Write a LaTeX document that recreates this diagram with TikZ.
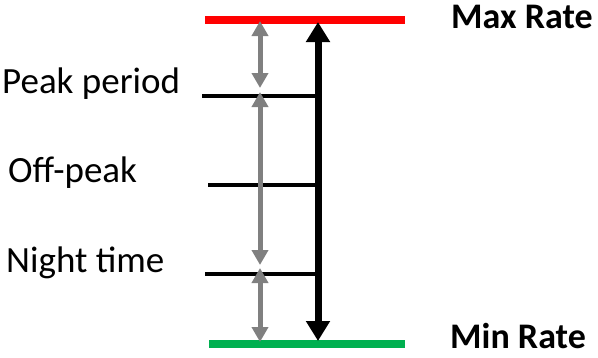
\documentclass[tikz,border=0pt]{standalone}
\usepackage{fontspec}
\setmainfont{Carlito}
\usetikzlibrary{arrows.meta}
\definecolor{maxred}{HTML}{FF0000}
\definecolor{mingreen}{HTML}{00B050}
\definecolor{spangrey}{HTML}{808080}
\tikzset{
  label text/.style={anchor=base west, inner sep=0pt, font=\fontsize{37}{44}\selectfont},
  rate text/.style={label text, font=\fontsize{36}{43}\selectfont\bfseries},
  level/.style={line width=3.5pt},
  rate level/.style={line width=7.5pt},
  range arrow/.style={line width=7pt, {Triangle[width=23pt,length=20pt]}-{Triangle[width=23pt,length=20pt]}},
  span arrow/.style={spangrey, line width=5pt, {Triangle[width=16pt,length=15pt]}-{Triangle[width=16pt,length=15pt]}}
}
\begin{document}
\begin{tikzpicture}[x=1pt,y=-1pt]
\useasboundingbox (0,0) rectangle (598,357);

% rate levels
\coordinate (maxL) at (205,20);  \coordinate (maxR) at (405,20);
\coordinate (minL) at (209,344); \coordinate (minR) at (405,344);
\draw[rate level, maxred] (maxL) -- (maxR);
\draw[rate level, mingreen] (minL) -- (minR);

% tariff period levels
\coordinate (peakL)  at (202,96);  \coordinate (peakR)  at (318,96);
\coordinate (offL)   at (208,185); \coordinate (offR)   at (318,185);
\coordinate (nightL) at (205,274); \coordinate (nightR) at (318,274);
\draw[level] (peakL) -- (peakR);
\draw[level] (offL) -- (offR);
\draw[level] (nightL) -- (nightR);

% overall rate range
\coordinate (rangeTop) at (318,22);
\coordinate (rangeBot) at (318,341);
\draw[range arrow] (rangeBot) -- (rangeTop);

% spans between levels
\coordinate (s1a) at (260,21);  \coordinate (s1b) at (260,88);
\coordinate (s2a) at (260,92);  \coordinate (s2b) at (260,265);
\coordinate (s3a) at (260,268); \coordinate (s3b) at (260,342);
\draw[span arrow] (s1a) -- (s1b);
\draw[span arrow] (s2a) -- (s2b);
\draw[span arrow] (s3a) -- (s3b);

% labels
\node[label text] (peak)  at (2,93)   {Peak period};
\node[label text] (off)   at (8,182)  {Off-peak};
\node[label text] (night) at (6,272)  {Night time};
\node[rate text]  (max)   at (451,28) {Max Rate};
\node[rate text]  (min)   at (450,348) {Min Rate};
\end{tikzpicture}
\end{document}
